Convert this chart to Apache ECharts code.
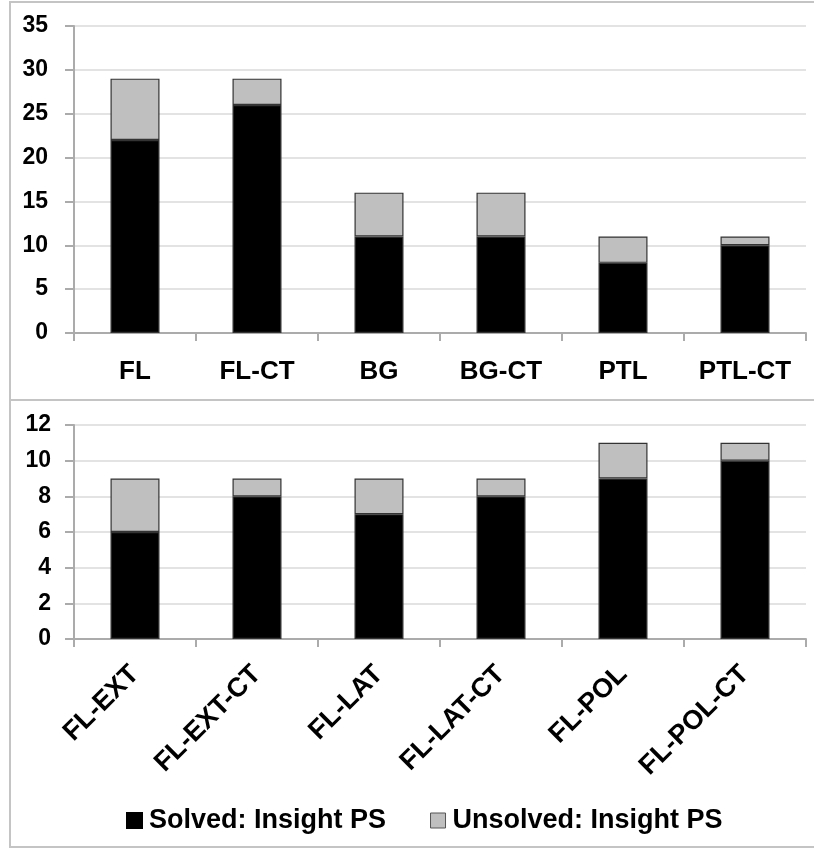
<!DOCTYPE html>
<html>
<head>
<meta charset="utf-8">
<script src="https://cdn.jsdelivr.net/npm/echarts@6/dist/echarts.min.js"></script>
<style>
html,body{margin:0;padding:0;background:#fff;}
#chart{width:814px;height:848px;}
</style>
</head>
<body>
<div id="chart"></div>
<script>
// ---- data ----
const topCategories = ['FL', 'FL-CT', 'BG', 'BG-CT', 'PTL', 'PTL-CT'];
const topSolved = [22, 26, 11, 11, 8, 10];
const topUnsolved = [7, 3, 5, 5, 3, 1];
const topAxisMin = 0, topAxisMax = 35, topAxisStep = 5;

const bottomCategories = ['FL-EXT', 'FL-EXT-CT', 'FL-LAT', 'FL-LAT-CT', 'FL-POL', 'FL-POL-CT'];
const bottomSolved = [6, 8, 7, 8, 9, 10];
const bottomUnsolved = [3, 1, 2, 1, 2, 1];
const bottomAxisMin = 0, bottomAxisMax = 12, bottomAxisStep = 2;

const seriesNames = ['Solved: Insight PS', 'Unsolved: Insight PS'];
// ---- styles ----
const FONT = '"Liberation Sans", Arial, sans-serif';
const SOLVED_COLOR = '#000000';
const UNSOLVED_COLOR = '#bfbfbf';
const AXIS_COLOR = '#ababab';
const GRID_COLOR = '#e3e3e3';
const BAR_BORDER = '#333333';

const chart = echarts.init(document.getElementById('chart'), null, {renderer: 'canvas'});

function xAxisCfg(gridIndex, cats, labelOpts) {
  return {
    type: 'category', gridIndex: gridIndex, data: cats,
    axisLine: {show: true, lineStyle: {color: AXIS_COLOR, width: 2}},
    axisTick: {show: true, length: 8, lineStyle: {color: AXIS_COLOR, width: 2}},
    axisLabel: Object.assign({color: '#000', fontFamily: FONT, fontWeight: 'bold', interval: 0}, labelOpts),
    splitLine: {show: false}
  };
}
function yAxisCfg(gridIndex, min, max, step, margin) {
  return {
    type: 'value', gridIndex: gridIndex, min: min, max: max, interval: step,
    axisLine: {show: true, lineStyle: {color: AXIS_COLOR, width: 2}},
    axisTick: {show: true, length: 9, lineStyle: {color: AXIS_COLOR, width: 2}},
    axisLabel: {color: '#000', fontFamily: FONT, fontWeight: 'bold', fontSize: 23, margin: margin},
    splitLine: {show: true, lineStyle: {color: GRID_COLOR, width: 2}}
  };
}
function barSeries(name, data, color, xi, yi) {
  return {
    name: name, type: 'bar', stack: 'total' + xi, xAxisIndex: xi, yAxisIndex: yi,
    data: data, barWidth: 49,
    itemStyle: {color: color, borderColor: BAR_BORDER, borderWidth: 1.2},
    emphasis: {disabled: true}
  };
}

const option = {
  animation: false,
  backgroundColor: '#ffffff',
  graphic: [
    {type: 'rect', shape: {x: 10, y: 2, width: 820, height: 398},
     style: {fill: 'none', stroke: '#c4c4c4', lineWidth: 2}, silent: true, z: -10},
    {type: 'rect', shape: {x: 10, y: 400, width: 820, height: 447},
     style: {fill: 'none', stroke: '#c4c4c4', lineWidth: 2}, silent: true, z: -10}
  ],
  grid: [
    {left: 74, right: 8, top: 26, height: 307},
    {left: 74, right: 8, top: 425, height: 214}
  ],
  xAxis: [
    xAxisCfg(0, topCategories, {fontSize: 26, margin: 26}),
    xAxisCfg(1, bottomCategories, {fontSize: 27, margin: 31, rotate: 45})
  ],
  yAxis: [
    yAxisCfg(0, topAxisMin, topAxisMax, topAxisStep, 26),
    yAxisCfg(1, bottomAxisMin, bottomAxisMax, bottomAxisStep, 23)
  ],
  legend: {
    data: [
      {name: seriesNames[0], itemStyle: {color: SOLVED_COLOR, borderColor: SOLVED_COLOR}},
      {name: seriesNames[1], itemStyle: {color: UNSOLVED_COLOR, borderColor: '#555', borderWidth: 1}}
    ],
    left: 121, top: 802,
    icon: 'rect', itemWidth: 15, itemHeight: 15, itemGap: 44,
    textStyle: {color: '#000', fontFamily: FONT, fontWeight: 'bold', fontSize: 27, padding: [0, 0, 0, 2]},
    selectedMode: false
  },
  series: [
    barSeries(seriesNames[0], topSolved, SOLVED_COLOR, 0, 0),
    barSeries(seriesNames[1], topUnsolved, UNSOLVED_COLOR, 0, 0),
    barSeries(seriesNames[0], bottomSolved, SOLVED_COLOR, 1, 1),
    barSeries(seriesNames[1], bottomUnsolved, UNSOLVED_COLOR, 1, 1)
  ]
};
chart.setOption(option);
</script>
</body>
</html>
